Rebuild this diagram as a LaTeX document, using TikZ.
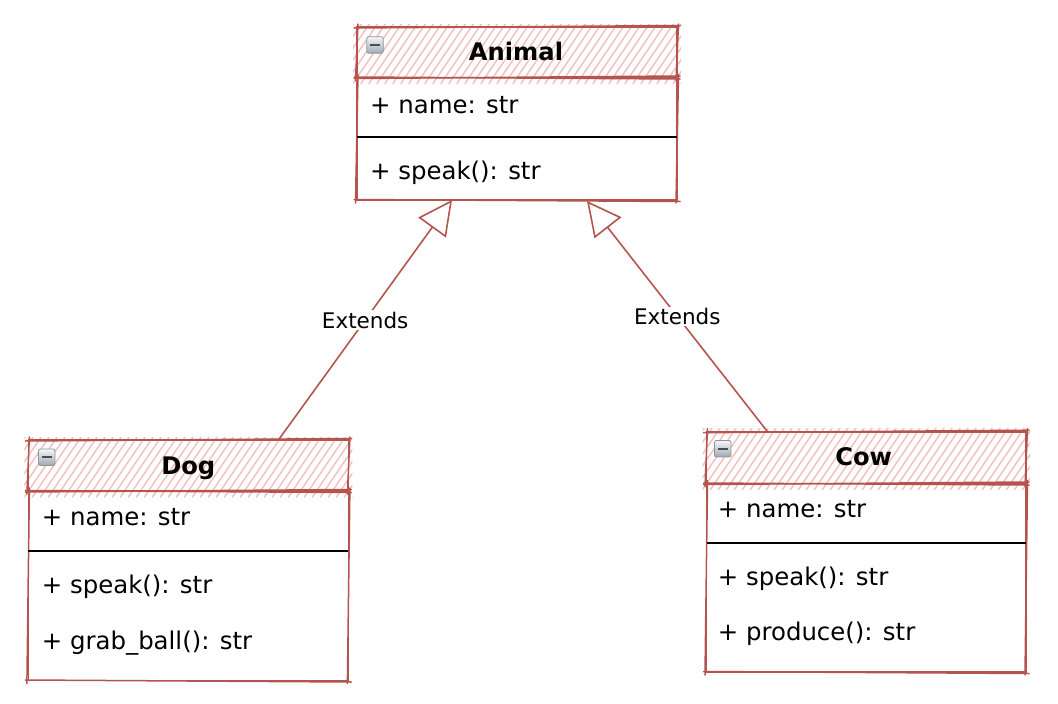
\documentclass[tikz,border=0pt]{standalone}
\usepackage{fontspec}
\setmainfont{DejaVu Sans}
\usetikzlibrary{arrows.meta,calc}
\definecolor{strokeC}{HTML}{B5544F}
\definecolor{hatchC}{HTML}{F3C2C0}
\definecolor{iconA}{HTML}{F4F6F9}
\definecolor{iconB}{HTML}{9EA9B6}
\newcommand\memberfont{\fontsize{24.4}{28}\selectfont}
\newcommand\titlefont{\fontsize{24.2}{28}\selectfont\bfseries}
\newcommand\lblfont{\fontsize{21.5}{25}\selectfont}
\tikzset{
  boxpart/.style={draw=strokeC, line width=1.8pt, inner sep=0pt, outer sep=0pt, rectangle},
  rough2/.style={draw=strokeC, line width=1.5pt, line cap=round},
  hatch/.style={draw=hatchC, line width=1.5pt, line cap=round},
  titletext/.style={anchor=base, inner sep=0pt, font=\titlefont},
  member/.style={anchor=base west, inner sep=0pt, font=\memberfont},
  sepline/.style={draw=black, line width=1.7pt},
  extends/.style={draw=strokeC, line width=1.6pt, -{Triangle[open, length=34pt, width=34pt, line width=1.6pt]}},
  extlabel/.style={fill=white, inner sep=1.5pt, font=\lblfont, text=black},
  iconbox/.style={draw=gray!85, line width=0.8pt, rounded corners=2pt, top color=iconA, bottom color=iconB, minimum width=16.5pt, minimum height=16.5pt, inner sep=0pt},
}
\newcommand\hatchfill[1]{%
  \begin{scope}
    \clip ([shift={(-4,-3)}]#1.north west) rectangle ([shift={(4,7)}]#1.south east);
    \foreach \i in {-60,-52,...,340} {
      \draw[hatch] ($(#1.south west)+(\i,6)$) -- ++(42,-62);
    }
  \end{scope}}
\newcommand\roughoutline[1]{%
  \draw[rough2] ([shift={(-3,1)}]#1.north west) -- ([shift={(3,-1.5)}]#1.north east);
  \draw[rough2] ([shift={(1.5,-3)}]#1.north east) -- ([shift={(-1,3)}]#1.south east);
  \draw[rough2] ([shift={(3,1.5)}]#1.south east) -- ([shift={(-3,-0.5)}]#1.south west);
  \draw[rough2] ([shift={(-1.5,3)}]#1.south west) -- ([shift={(1,-3)}]#1.north west);}
\newcommand\minusicon[2]{%
  \node[iconbox] (#1) at (#2) {};
  \draw[black!70, line width=2.2pt] ([xshift=3.5pt]#1.west) -- ([xshift=-3.5pt]#1.east);}
\begin{document}
\begin{tikzpicture}[x=1pt, y=-1pt]
\useasboundingbox (0,0) rectangle (1058,704);

% ---------- Animal ----------
\node[boxpart, minimum width=320pt, minimum height=50.5pt] (animalH) at (517,52.25) {};
\node[boxpart, fill=white, minimum width=320pt, minimum height=122.5pt] (animalB) at (517,138.75) {};
\hatchfill{animalH}
\draw[boxpart] (animalH.north west) rectangle (animalH.south east);
\roughoutline{animalH}
\roughoutline{animalB}
\minusicon{animalI}{375,45}
\node[titletext] (animalT) at (516,60.7) {Animal};
\node[member] (animalA1) at (370,113.3) {+ name: str};
\draw[sepline] (animalB.west |- 0,137) coordinate (animalSL) -- (animalB.east |- 0,137) coordinate (animalSR);
\node[member] (animalM1) at (370,179.3) {+ speak(): str};

% ---------- Dog ----------
\node[boxpart, minimum width=320pt, minimum height=51pt] (dogH) at (188.4,465.5) {};
\node[boxpart, fill=white, minimum width=320pt, minimum height=189.5pt] (dogB) at (188.4,585.75) {};
\hatchfill{dogH}
\draw[boxpart] (dogH.north west) rectangle (dogH.south east);
\roughoutline{dogH}
\roughoutline{dogB}
\minusicon{dogI}{46.7,457.2}
\node[titletext] (dogT) at (188.3,474.3) {Dog};
\node[member] (dogA1) at (41.7,525.7) {+ name: str};
\draw[sepline] (dogB.west |- 0,550.7) coordinate (dogSL) -- (dogB.east |- 0,550.7) coordinate (dogSR);
\node[member] (dogM1) at (41.7,593.3) {+ speak(): str};
\node[member] (dogM2) at (41.7,649) {+ grab\_ball(): str};

% ---------- Cow ----------
\node[boxpart, minimum width=319.5pt, minimum height=51.8pt] (cowH) at (866.25,457.6) {};
\node[boxpart, fill=white, minimum width=319.5pt, minimum height=188.5pt] (cowB) at (866.25,577.75) {};
\hatchfill{cowH}
\draw[boxpart] (cowH.north west) rectangle (cowH.south east);
\roughoutline{cowH}
\roughoutline{cowB}
\minusicon{cowI}{722.7,448.7}
\node[titletext] (cowT) at (863.7,465) {Cow};
\node[member] (cowA1) at (717.7,517.3) {+ name: str};
\draw[sepline] (cowB.west |- 0,543.3) coordinate (cowSL) -- (cowB.east |- 0,543.3) coordinate (cowSR);
\node[member] (cowM1) at (717.7,585.7) {+ speak(): str};
\node[member] (cowM2) at (717.7,640.7) {+ produce(): str};

% ---------- connectors ----------
\coordinate (dogTop) at ($(dogH.north west)+(250,0)$);
\coordinate (animalInL) at ($(animalB.south west)+(95,0)$);
\coordinate (cowTop) at ($(cowH.north west)+(61,0)$);
\coordinate (animalInR) at ($(animalB.south west)+(230,1)$);
\draw[extends] (dogTop) -- node[extlabel, pos=0.5] (lblL) {Extends} (animalInL);
\draw[extends] (cowTop) -- node[extlabel, pos=0.5] (lblR) {Extends} (animalInR);
\end{tikzpicture}
\end{document}
